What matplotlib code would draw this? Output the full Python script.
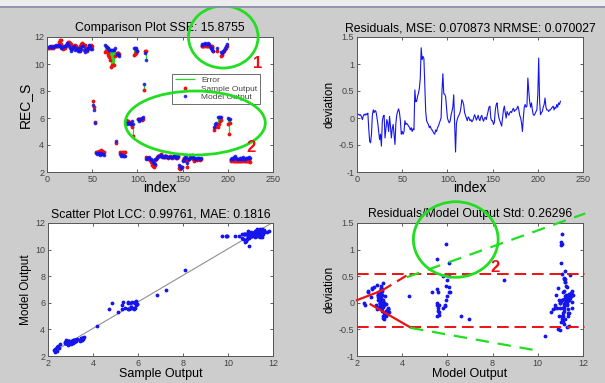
import numpy as np
import matplotlib
matplotlib.use("Agg")
import matplotlib.pyplot as plt
from matplotlib.patches import Ellipse, Rectangle
from matplotlib.lines import Line2D

plt.rcParams['font.family'] = ['Liberation Sans', 'DejaVu Sans']

# sample output (REC_S), index 1..225
sample = [
    11.2, 11.2, 11.25, 11.2, 11.25, 11.3, 11.2, 11.25, 11.3, 11.3,
    11.3, 11.35, 11.6, 11.8, 11.75, 11.5, 11.2, 11.1, 11.2, 11.2,
    11.3, 11.5, 11.6, 11.6, 11.55, 11.4, 11.5, 11.2, 11.25, 11.3,
    11.4, 11.3, 11.2, 11.1, 11.2, 11.0, 11.3, 11.5, 11.55, 11.45,
    11.35, 11.4, 11.2, 11.0, 11.1, 11.2, 11.3, 11.35, 11.4, 11.35,
    7.25, 6.85, 5.7, 3.5, 3.45, 3.5, 3.45, 3.55, 3.5, 3.6,
    3.55, 3.5, 3.45, 10.9, 11.0, 10.95, 10.8, 10.7, 10.5, 10.3,
    9.75, 9.95, 9.9, 9.95, 10.6, 4.17, 10.8, 10.85, 10.8, 10.75,
    3.45, 3.4, 3.45, 3.4, 3.45, 3.5, 5.85, 5.8, 5.8, 5.75,
    5.7, 5.6, 5.55, 5.3, 4.7, 10.7, 10.75, 10.8, 10.9, 11.0,
    5.95, 5.9, 5.95, 5.9, 5.85, 5.9, 8.07, 10.95, 10.93, 3.1,
    3.05, 3.0, 3.05, 2.9, 2.75, 2.55, 2.45, 2.4, 2.5, 2.9,
    3.0, 3.1, 3.15, 3.2, 3.25, 3.3, 3.2, 3.15, 3.1, 3.1,
    3.15, 3.2, 3.1, 3.05, 3.1, 3.15, 3.1, 3.05, 3.1, 3.15,
    3.2, 3.15, 3.1, 3.05, 3.1, 2.3, 2.25, 2.3, 2.4, 2.9,
    3.0, 3.05, 2.95, 2.85, 2.4, 2.9, 3.0, 3.1, 3.2, 3.25,
    3.1, 2.95, 2.85, 2.9, 3.0, 2.9, 2.95, 3.0, 2.9, 2.95,
    11.3, 11.35, 11.3, 11.35, 11.4, 11.35, 11.3, 11.3, 11.35, 11.3,
    11.2, 11.25, 11.3, 11.0, 5.1, 5.3, 5.4, 10.95, 5.35, 5.55,
    5.75, 5.85, 10.6, 10.65, 10.9, 11.0, 11.1, 11.2, 11.3, 5.55,
    4.85, 5.65, 2.9, 2.85, 2.9, 2.8, 2.85, 2.8, 2.85, 2.8,
    2.8, 2.85, 2.9, 2.8, 2.85, 2.8, 2.9, 2.85, 2.8, 2.85,
    2.8, 2.85, 2.8, 2.8, 2.75,
]

# residuals (model - sample), index 1..225
resid = [
    0.06, 0.07, 0.05, 0.06, 0.02, -0.03, 0.04, 0.07, 0.05, 0.08,
    0.06, 0.09, -0.2, -0.43, -0.46, -0.3, 0.05, 0.15, 0.1, 0.14,
    0.12, 0.02, -0.1, -0.25, -0.4, -0.3, -0.52, -0.06, 0.03, 0.05,
    -0.37, -0.2, -0.03, -0.1, -0.25, 0.03, -0.15, -0.37, -0.2, -0.12,
    -0.3, -0.49, -0.1, 0.06, 0.12, 0.17, 0.1, -0.05, -0.3, -0.25,
    -0.3, -0.25, -0.05, -0.12, -0.1, -0.12, -0.15, -0.17, -0.22, -0.18,
    -0.25, -0.2, -0.22, 0.52, 0.3, 0.31, 0.4, 0.46, 0.55, 0.74,
    1.3, 1.08, 1.14, 1.1, 0.59, 0.12, -0.05, -0.09, -0.12, -0.18,
    -0.15, -0.2, -0.22, -0.25, -0.28, -0.3, -0.22, -0.25, -0.18, -0.15,
    -0.1, -0.05, 0.0, 0.5, 0.82, 0.45, 0.44, 0.4, 0.2, 0.0,
    -0.05, -0.09, -0.06, 0.05, 0.12, 0.2, 0.43, -0.1, -0.63, -0.1,
    -0.02, 0.03, 0.06, 0.1, 0.2, 0.34, 0.3, 0.25, 0.1, 0.05,
    0.0, -0.05, 0.02, 0.0, -0.05, -0.03, -0.07, -0.05, 0.0, 0.06,
    0.02, -0.04, 0.0, 0.05, -0.02, -0.05, 0.02, 0.05, -0.02, -0.06,
    0.0, 0.01, -0.03, 0.05, 0.12, 0.2, 0.22, 0.0, -0.05, -0.05,
    -0.12, -0.08, 0.15, 0.25, 0.28, 0.1, 0.0, -0.05, -0.1, -0.15,
    0.0, 0.15, 0.22, 0.1, 0.0, 0.12, 0.08, 0.05, 0.1, 0.12,
    0.1, 0.15, 0.18, 0.12, 0.15, 0.15, 0.18, 0.22, 0.15, 0.05,
    0.0, -0.09, -0.25, 0.0, 0.2, 0.25, 0.2, 0.22, 0.74, 0.5,
    0.3, 0.2, 0.28, 0.15, 0.06, 0.05, 0.08, 0.12, 0.15, 0.43,
    1.11, 0.31, 0.06, 0.1, 0.12, 0.2, 0.25, 0.37, 0.2, 0.15,
    0.15, 0.12, 0.15, 0.15, 0.18, 0.2, 0.22, 0.15, 0.2, 0.18,
    0.25, 0.2, 0.28, 0.25, 0.31,
]

sample = np.array(sample)
resid = np.array(resid)
model = sample + resid
idx = np.arange(1, len(sample) + 1)

titles = ["Comparison Plot SSE: 15.8755",
          "Residuals, MSE: 0.070873 NRMSE: 0.070027",
          "Scatter Plot LCC: 0.99761, MAE: 0.1816",
          "Residuals/Model Output Std: 0.26296"]

bg = "#cdcdcd"
green = "#22dd22"
red = "#ee1111"
blue = "#1515ee"

fig = plt.figure(figsize=(6.05, 3.83), dpi=100, facecolor=bg)
fig.patches.append(Rectangle((0, 1 - 6 / 383), 1, 6 / 383, transform=fig.transFigure,
                             facecolor="#ececec", edgecolor="none", zorder=0))
fig.lines.append(Line2D([0, 1], [1 - 7 / 383] * 2, transform=fig.transFigure,
                        color="#8c8cb0", lw=1.2))

W, H = 605, 383
def box(l, t, r, b):
    return [l / W, 1 - b / H, (r - l) / W, (b - t) / H]

ax1 = fig.add_axes(box(47, 37, 273, 172))
ax2 = fig.add_axes(box(357, 37, 583, 172))
ax3 = fig.add_axes(box(48, 223, 273, 356))
ax4 = fig.add_axes(box(357, 223, 583, 356))

for ax in (ax1, ax2, ax3, ax4):
    ax.set_facecolor("white")
    ax.tick_params(direction="in", length=2.5, width=0.6, labelsize=6.5,
                   colors="#444444", top=True, right=True, pad=2)
    for s in ax.spines.values():
        s.set_color("#555555")
        s.set_linewidth(0.7)

# comparison plot
ax1.vlines(idx, sample, model, color=green, lw=0.9, label="Error")
ax1.plot(idx, sample, ".", color=red, ms=3.5, label="Sample Output")
ax1.plot(idx, model, ".", color=blue, ms=3.3, alpha=0.8, label="Model Output")
ax1.set_xlim(0, 250)
ax1.set_ylim(2, 12)
ax1.set_xticks([0, 50, 100, 150, 200, 250])
ax1.set_yticks([2, 4, 6, 8, 10, 12])
ax1.set_title(titles[0], fontsize=8.8, pad=4)
ax1.set_xlabel("index", fontsize=10, labelpad=-2)
ax1.set_ylabel("REC_S", fontsize=10, labelpad=2)
leg = ax1.legend(loc="upper right", bbox_to_anchor=(0.96, 0.76), fontsize=6,
                 fancybox=False, framealpha=1, edgecolor="#555555",
                 handlelength=2.4, borderpad=0.3, labelspacing=0.1, markerscale=1)
leg.get_frame().set_linewidth(0.6)
for t in leg.get_texts():
    t.set_color("#444444")

# residuals vs index
ax2.plot(idx, resid, color=blue, lw=0.8)
ax2.set_xlim(0, 250)
ax2.set_ylim(-1, 1.5)
ax2.set_xticks([0, 50, 100, 150, 200, 250])
ax2.set_yticks([-1, -0.5, 0, 0.5, 1, 1.5])
ax2.set_yticklabels(["-1", "-0.5", "0", "0.5", "1", "1.5"])
ax2.set_title(titles[1], fontsize=8.8, pad=4)
ax2.set_xlabel("index", fontsize=10, labelpad=-2)
ax2.set_ylabel("deviation", fontsize=8.5, labelpad=2)

# scatter plot
fit = np.polyfit(sample, model, 1)
xs = np.array([sample.min(), 12])
ax3.plot(xs, np.polyval(fit, xs), color="#909090", lw=0.8)
ax3.plot(sample, model, ".", color=blue, ms=3.5)
ax3.set_xlim(2, 12)
ax3.set_ylim(2, 12)
ax3.set_xticks([2, 4, 6, 8, 10, 12])
ax3.set_yticks([2, 4, 6, 8, 10, 12])
ax3.set_title(titles[2], fontsize=8.8, pad=4)
ax3.set_xlabel("Sample Output", fontsize=9, labelpad=0)
ax3.set_ylabel("Model Output", fontsize=8.5, labelpad=2)

# residuals vs model output
ax4.plot(model, resid, ".", color=blue, ms=3.5)
ax4.set_xlim(2, 12)
ax4.set_ylim(-1, 1.5)
ax4.set_xticks([2, 4, 6, 8, 10, 12])
ax4.set_yticks([-1, -0.5, 0, 0.5, 1, 1.5])
ax4.set_yticklabels(["-1", "-0.5", "0", "0.5", "1", "1.5"])
ax4.set_title(titles[3], fontsize=8.8, pad=4)
ax4.set_xlabel("Model Output", fontsize=9, labelpad=0)
ax4.set_ylabel("deviation", fontsize=8.5, labelpad=2)

# hand-drawn annotations
ann = dict(clip_on=False, zorder=10)
ax1.add_patch(Ellipse((195, 12.0), 77, 4.6, fill=False, ec=green, lw=2, **ann))
ax1.add_patch(Ellipse((164, 5.63), 155, 4.74, fill=False, ec=green, lw=2, **ann))
ax1.text(233, 10.07, "1", color=red, fontsize=12, fontweight="bold", ha="center", va="center", **ann)
ax1.text(226, 3.78, "2", color=red, fontsize=12, fontweight="bold", ha="center", va="center", **ann)

ax4.plot([2, 12.1], [0.54, 0.54], "--", color=red, lw=1.4, dashes=(6, 3), **ann)
ax4.plot([2, 12.1], [-0.46, -0.46], "--", color=red, lw=1.4, dashes=(6, 3), **ann)
ax4.plot([2.0, 3.1], [0.05, 0.23], "-", color=red, lw=1.6, **ann)
ax4.plot([3.1, 4.3], [0.23, 0.54], "--", color=red, lw=1.6, dashes=(5, 3), **ann)
ax4.plot([2.6, 4.35], [-0.03, -0.46], "-", color=red, lw=1.6, **ann)
ax4.plot([4.2, 12.1], [0.48, 1.68], "--", color=green, lw=1.6, dashes=(6, 4), **ann)
ax4.plot([4.35, 10.0], [-0.47, -0.9], "--", color=green, lw=1.6, dashes=(6, 4), **ann)
ax4.add_patch(Ellipse((6.37, 1.19), 3.75, 1.42, fill=False, ec=green, lw=2, **ann))
ax4.text(8.1, 0.67, "2", color=red, fontsize=12, fontweight="bold", ha="center", va="center", **ann)

fig.savefig("out.png", dpi=100, facecolor=bg)
